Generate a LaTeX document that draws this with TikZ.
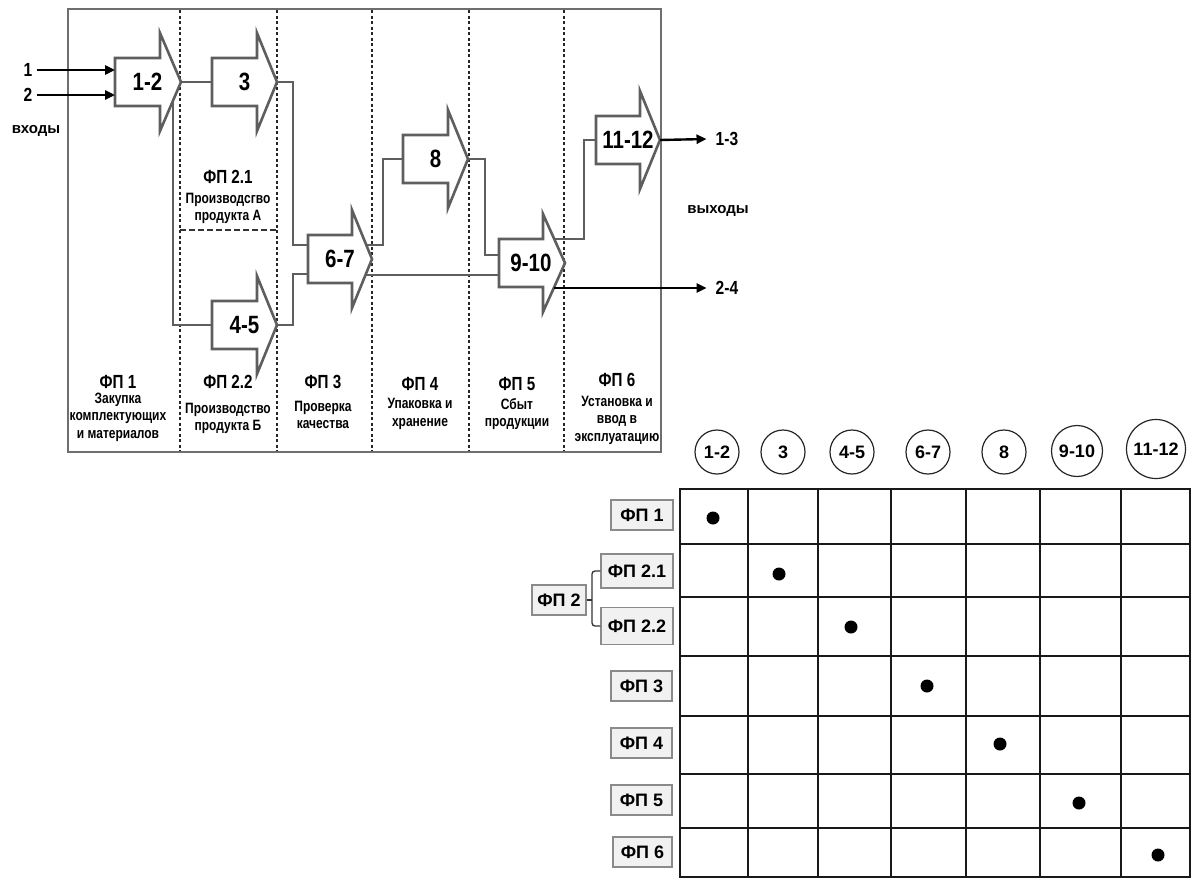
\documentclass[tikz,border=0pt]{standalone}
\usepackage{fontspec}
\setmainfont{Liberation Sans}
\newfontfamily\nb[FakeStretch=0.82]{Liberation Sans}
\newfontfamily\nc[FakeStretch=0.8]{Liberation Sans}
\usetikzlibrary{arrows.meta}
\definecolor{g}{HTML}{5E5E5E}
\definecolor{fr}{HTML}{6E6E6E}
\definecolor{boxfill}{HTML}{F1F1F1}
\definecolor{boxline}{HTML}{8A8A8A}
\tikzset{
  gline/.style={draw=g, line width=2.6pt},
  barrow/.style={draw=g, line width=2.6pt, fill=white, line join=miter},
  alabel/.style={font=\nb\bfseries\fontsize{25}{25}\selectfont, inner sep=0pt},
  dline/.style={draw=black!85, line width=1.3pt, dash pattern=on 3pt off 2.5pt},
  hdline/.style={draw=black!80, line width=1.5pt, dash pattern=on 6pt off 3pt},
  ttl/.style={font=\nc\bfseries\fontsize{19}{19}\selectfont, inner sep=0pt},
  dsc/.style={font=\nc\bfseries\fontsize{15}{17.5}\selectfont, inner sep=0pt, align=center},
  iolabel/.style={font=\nb\bfseries\fontsize{19}{19}\selectfont, inner sep=0pt},
  inlabel/.style={font=\bfseries\fontsize{15}{15}\selectfont, inner sep=0pt},
  wlabel/.style={font=\bfseries\fontsize{15}{15}\selectfont, inner sep=0pt},
  blk/.style={draw=black, line width=2.4pt, -{Triangle[length=10pt,width=9pt]}},
  grid/.style={draw=black!90, line width=1.8pt},
  cnode/.style={circle, draw=black!85, line width=1.2pt, inner sep=0pt, font=\bfseries\fontsize{18}{18}\selectfont},
  rbox/.style={draw=boxline, fill=boxfill, line width=1.5pt, inner sep=0pt, font=\bfseries\fontsize{18}{18}\selectfont},
}
\newcommand\blockarr[6]{%
  \draw[barrow] (#2,#5-24) -- (#3,#5-24) -- (#3,#5-49) -- (#4,#5) -- (#3,#5+49) -- (#3,#5+24) -- (#2,#5+24) -- cycle;
  \node[alabel] (#1) at ({(#2+#3)/2+10},#5) {#6};
  \coordinate (#1-tip) at (#4,#5);
  \coordinate (#1-in) at (#2,#5);
}
\begin{document}
\begin{tikzpicture}[x=1pt,y=-1pt]
\useasboundingbox (0,0) rectangle (1192,879);
% frame
\draw[draw=fr, line width=2pt] (68,9) rectangle (661,452);
\foreach \xx in {180,277,372,469,564} \draw[dline] (\xx,10) -- (\xx,451);
\draw[hdline] (180,230) -- (277,230);

% connectors
\coordinate (j1) at (173,101);
\coordinate (k45) at (212,325);
\coordinate (k67a) at (308,245);
\coordinate (k67b) at (308,274);
\coordinate (e67u) at (366,245);
\coordinate (e67d) at (366,275);
\coordinate (k910a) at (499,255);
\coordinate (k910b) at (499,275);
\coordinate (e910u) at (554,239);
\coordinate (k1112) at (596,140);
\draw[gline] (181,82) -- (212,82);
\draw[gline] (j1) |- (k45);
\draw[gline] (277,82) -| (293,245) -- (k67a);
\draw[gline] (277,325) -| (293,274) -- (k67b);
\draw[gline] (e67u) -| (383,159) -- (403,159);
\draw[gline] (e67d) -- (k910b);
\draw[gline] (468,159) -| (485,255) -- (k910a);
\draw[gline] (e910u) -| (584,140) -- (k1112);

% block arrows
\blockarr{a12}{115}{160}{181}{82}{1-2}
\blockarr{a3}{212}{257}{277}{82}{3}
\blockarr{a45}{212}{257}{277}{325}{4-5}
\blockarr{a67}{308}{352}{372}{259}{6-7}
\blockarr{a8}{403}{448}{468}{159}{8}
\blockarr{a910}{499}{543}{565}{263}{9-10}
\blockarr{a1112}{596}{640}{660}{140}{11-12}

% inputs / outputs
\node[iolabel] (i1) at (28,70) {1};
\node[iolabel] (i2) at (28,95) {2};
\coordinate (a12in1) at (115,70);
\coordinate (a12in2) at (115,95);
\draw[blk] (i1.east) ++(4,0) -- (a12in1);
\draw[blk] (i2.east) ++(4,0) -- (a12in2);
\node[inlabel] (vx) at (36,131) {входы};
\node[wlabel] (vy) at (718,211) {выходы};
\node[iolabel] (o13) at (727,139) {1-3};
\node[iolabel] (o24) at (727,288) {2-4};
\coordinate (e910d) at (554,288);
\draw[blk] (a1112-tip) -- ([xshift=-9pt]o13.west);
\draw[blk] (e910d) -- ([xshift=-9pt]o24.west);

% labels in columns
\node[ttl] (t21) at (228,177) {ФП 2.1};
\node[dsc] (d21) at (228,208.5) {Производсгво\\продукта А};
\node[ttl] (t1) at (118,382) {ФП 1};
\node[dsc] (d1) at (118,417) {Закупка\\комплектующих\\и материалов};
\node[ttl] (t22) at (228,382) {ФП 2.2};
\node[dsc] (d22) at (228,418.5) {Производство\\продукта Б};
\node[ttl] (t3) at (323,382) {ФП 3};
\node[dsc] (d3) at (323,415) {Проверка\\качества};
\node[ttl] (t4) at (420,384) {ФП 4};
\node[dsc] (d4) at (420,414) {Упаковка и\\хранение};
\node[ttl] (t5) at (517,384) {ФП 5};
\node[dsc] (d5) at (517,414) {Сбыт\\продукции};
\node[ttl] (t6) at (617,380) {ФП 6};
\node[dsc] (d6) at (617,420) {Установка и\\ввод в\\эксплуатацию};

% matrix
\draw[grid] (680,489) rectangle (1190,877);
\foreach \xx in {748,818,891,966,1040,1121} \draw[grid] (\xx,489) -- (\xx,877);
\foreach \yy in {544,597,656,716,774,828} \draw[grid] (680,\yy) -- (1190,\yy);
\foreach \px/\py in {713/518,779/574,851/627,927/686,1000/744,1079/803,1158/855}
  \fill (\px,\py) circle (6.5pt);

% circle headers
\node[cnode, minimum size=44pt] (c12) at (717,452) {1-2};
\node[cnode, minimum size=44pt] (c3) at (783,452) {3};
\node[cnode, minimum size=44pt] (c45) at (852,452) {4-5};
\node[cnode, minimum size=44pt] (c67) at (928,452) {6-7};
\node[cnode, minimum size=44pt] (c8) at (1004,452) {8};
\node[cnode, minimum size=51pt] (c910) at (1077,451) {9-10};
\node[cnode, minimum size=59pt] (c1112) at (1156,449) {11-12};

% row labels
\node[rbox, minimum width=62pt, minimum height=30pt] (f1) at (642,515) {ФП 1};
\node[rbox, minimum width=72pt, minimum height=34pt] (f21) at (637,571) {ФП 2.1};
\node[rbox, minimum width=72pt, minimum height=37pt] (f22) at (637,626) {ФП 2.2};
\node[rbox, minimum width=54pt, minimum height=30pt] (f2) at (559,600) {ФП 2};
\node[rbox, minimum width=61pt, minimum height=30pt] (f3) at (641.5,686) {ФП 3};
\node[rbox, minimum width=61pt, minimum height=30pt] (f4) at (641.5,743) {ФП 4};
\node[rbox, minimum width=61pt, minimum height=30pt] (f5) at (641.5,800) {ФП 5};
\node[rbox, minimum width=59pt, minimum height=30pt] (f6) at (642.5,852) {ФП 6};
\coordinate (br) at (592,600);
\draw[black!80, line width=1.3pt, rounded corners=3pt] (f21.west) -| (br) |- (f22.west);
\draw[black!80, line width=1.3pt] (f2.east) -- (br);
\end{tikzpicture}
\end{document}
